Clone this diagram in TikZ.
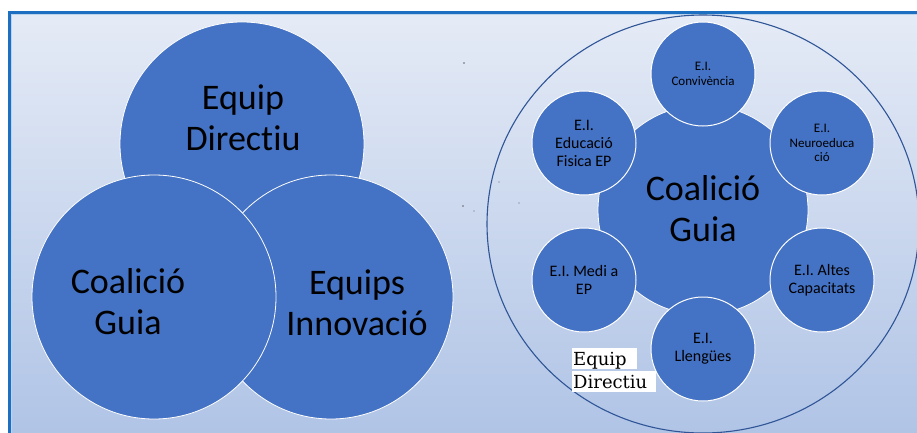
\documentclass[tikz,border=0pt]{standalone}
\usepackage{fontspec}
\setmainfont{Carlito}[Ligatures={NoCommon}]
\newfontfamily\edfont{DejaVu Serif}
\definecolor{bgtop}{HTML}{E5EBF6}
\definecolor{bgbot}{HTML}{B0C4E6}
\definecolor{framec}{HTML}{1C6FC1}
\definecolor{acc}{HTML}{4472C4}
\definecolor{ringc}{HTML}{2F5597}
\tikzset{
  bigc/.style={circle, fill=acc, draw=white, line width=0.8pt, minimum size=244pt, inner sep=0pt},
  midc/.style={circle, fill=acc, draw=white, line width=0.8pt, minimum size=210pt, inner sep=0pt},
  smallc/.style={circle, fill=acc, draw=white, line width=1pt, minimum size=104pt, inner sep=0pt, align=center},
  bigtxt/.style={font=\fontsize{36}{41}\selectfont, align=center, inner sep=0pt},
  stxt/.style={font=\fontsize{16}{18}\selectfont},
  ttxt/.style={font=\fontsize{13}{14.5}\selectfont},
  edbox/.style={fill=white, font=\edfont\fontsize{18}{20}\selectfont, inner sep=0pt, inner xsep=1pt, text height=17pt, text depth=4pt, align=left, anchor=base west},
  speck/.style={fill=black!60, draw=none}
}
\begin{document}
\begin{tikzpicture}[x=1pt,y=-1pt]
\useasboundingbox (0,0) rectangle (917,433);
\fill[white] (0,0) rectangle (917,433);
\begin{scope}
\clip (0,0) rectangle (917,433);
\shade[top color=bgtop, bottom color=bgbot] (9,12.5) rectangle (917,433);
\draw[framec, line width=3pt] (9,433) -- (9,12.5) -- (917,12.5);
\draw[white!70!framec, line width=0.6pt] (11.3,433) -- (11.3,14.8) -- (917,14.8);
% left diagram
\node[bigc] (ed) at (242,144) {};
\node[bigc] (ei) at (331,297) {};
\node[bigc] (cg) at (154,297) {};
\node[bigtxt] (edt) at (243,118) {Equip\\Directiu};
\node[bigtxt] (cgt) at (128,302) {Coalició\\Guia};
\node[bigtxt] (eit) at (357,303) {Equips\\Innovació};
% right diagram
\draw[ringc, line width=1.1pt] (703,224) ellipse [x radius=216pt, y radius=209pt];
\node[midc] (core) at (703,210) {};
\node[bigtxt] (coret) at (703,209) {Coalició\\Guia};
\node[smallc, ttxt] (conv) at (703,74) {E.I.\\Convivència};
\node[smallc, ttxt] (neuro) at (822,143) {E.I.\\Neuroeduca\\ció};
\node[smallc, stxt] (altes) at (822,280) {E.I. Altes\\Capacitats};
\node[smallc, stxt] (lleng) at (703,349) {E.I.\\Llengües};
\node[smallc, stxt] (medi) at (584,280) {E.I. Medi a\\EP};
\node[smallc, stxt] (efis) at (584,143) {E.I.\\Educació\\Fisica EP};
\node[edbox, text width=63pt] (edl1) at (572,365) {Equip};
\node[edbox, text width=82pt] (edl2) at (572,388) {Directiu};
% specks
\fill[speck] (464,63) circle (0.8pt);
\fill[speck] (499,182) circle (0.7pt);
\fill[speck] (463,206) circle (0.8pt);
\fill[speck] (474,211) circle (0.7pt);
\fill[speck] (519,203) circle (0.7pt);
\end{scope}
\end{tikzpicture}
\end{document}
